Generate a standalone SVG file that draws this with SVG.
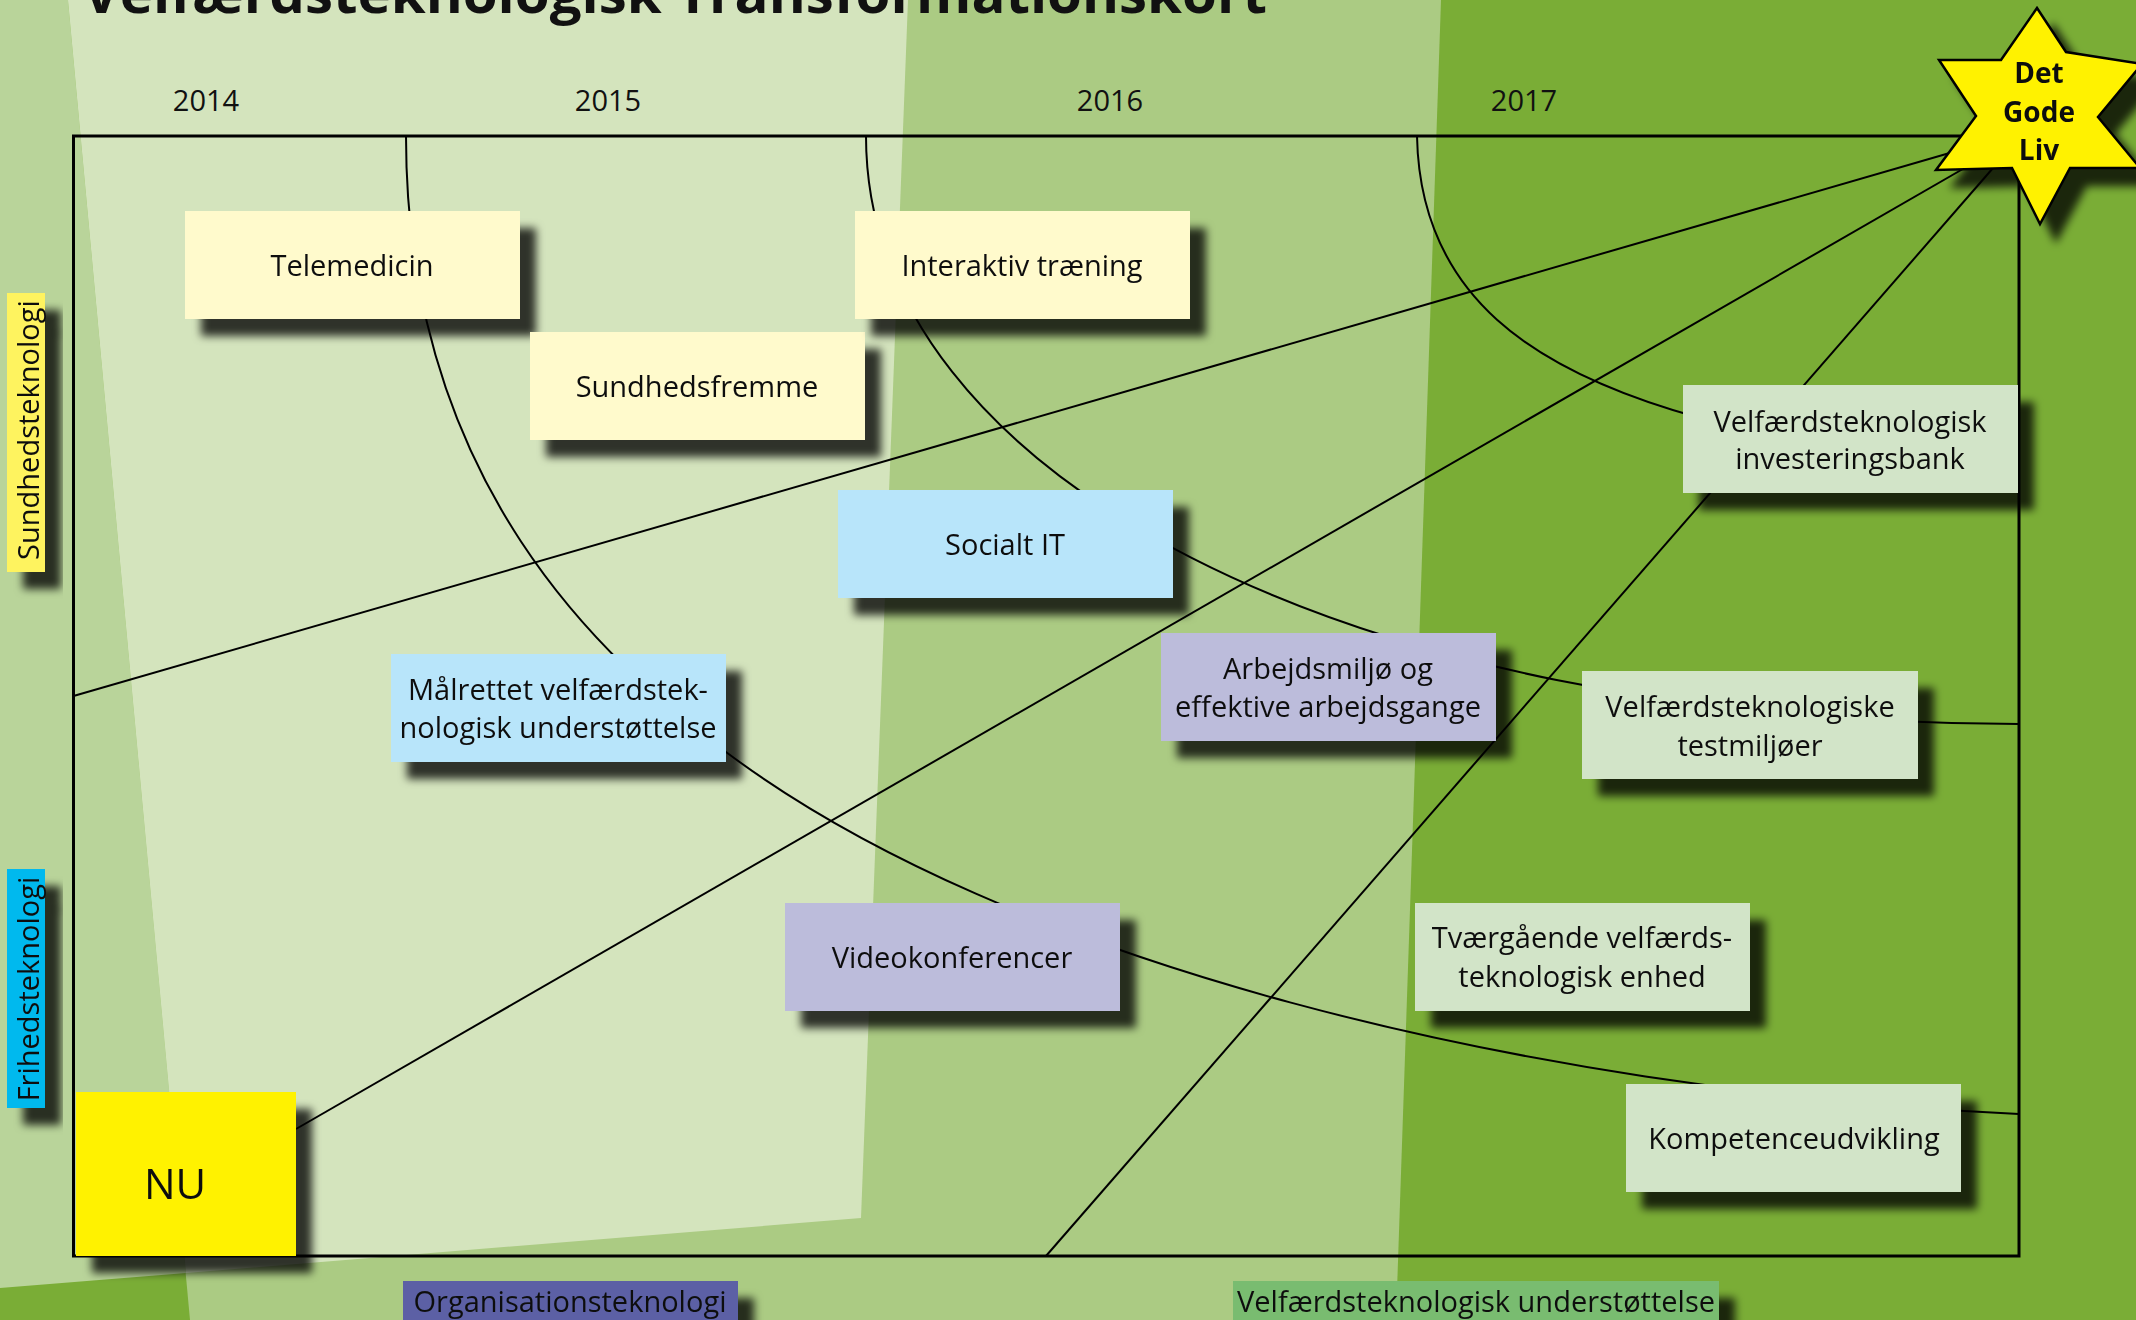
<svg xmlns="http://www.w3.org/2000/svg" width="2136" height="1320" viewBox="0 0 2136 1320">
<defs>
<filter id="sh" x="-20%" y="-20%" width="160%" height="170%">
<feDropShadow dx="16" dy="17" stdDeviation="4" flood-color="#000" flood-opacity="0.78"/>
</filter>
<style>
text{font-family:"Open Sans","Noto Sans",sans-serif;fill:#111;}
.lbl{font-size:29px;text-anchor:middle;}
.yr{font-size:29px;text-anchor:middle;}
.cn{fill:none;stroke:#000;stroke-width:2;}
.y{fill:#fffacc;}
.b{fill:#b8e5fa;}
.p{fill:#bcbcdb;}
.g{fill:#d2e4c8;}
</style>
</defs>
<g id="background">
<rect x="0" y="0" width="2136" height="1320" fill="#7aad36"/>
<polygon points="68,0 1441,0 1396,1320 190,1320" fill="#abcb83"/>
<polygon points="0,0 68,0 186,1273 0,1288" fill="#b9d49a"/>
<polygon points="68,0 908,0 861,1218 186,1273" fill="#d4e4bd"/>
</g>
<text id="title" x="83" y="13" font-size="54" font-weight="bold" textLength="1184" lengthAdjust="spacingAndGlyphs">Velfærdsteknologisk Transformationskort</text>
<g id="years">
<text class="yr" x="206" y="111">2014</text>
<text class="yr" x="608" y="111">2015</text>
<text class="yr" x="1110" y="111">2016</text>
<text class="yr" x="1524" y="111">2017</text>
</g>
<rect id="frame" x="73.5" y="136" width="1945.5" height="1120" fill="none" stroke="#000" stroke-width="3"/>
<g id="connectors">
<path class="cn" d="M406,136 C406,486 606,662 726,752 C1006,962 1519,1089 2019,1114"/>
<path class="cn" d="M866,136 C866,477 1350,724 2019,724"/>
<path class="cn" d="M1417,136 C1420,296 1533,372 1700,418"/>
<path class="cn" d="M73.5,696 L1960,150"/>
<path class="cn" d="M296,1129 L1975,162"/>
<path class="cn" d="M1046,1256 L2000,160"/>
</g>
<g id="side-sundhed" filter="url(#sh)">
<rect x="7" y="293" width="38" height="279" fill="#fef35e"/>
<text class="lbl" transform="translate(39,430) rotate(-90)" x="0" y="0">Sundhedsteknologi</text>
</g>
<g id="side-frihed" filter="url(#sh)">
<rect x="7" y="869" width="38" height="239" fill="#00b9ee"/>
<text class="lbl" transform="translate(39,989) rotate(-90)" x="0" y="0">Frihedsteknologi</text>
</g>
<g id="bottom-org" filter="url(#sh)">
<rect x="403" y="1281" width="335" height="50" fill="#5b61a5"/>
<text class="lbl" x="570" y="1312">Organisationsteknologi</text>
</g>
<g id="bottom-vel" filter="url(#sh)">
<rect x="1233" y="1281" width="486" height="50" fill="#79bc70"/>
<text class="lbl" x="1476" y="1312">Velfærdsteknologisk understøttelse</text>
</g>
<g id="node-telemedicin" filter="url(#sh)">
<rect class="y" x="185" y="211" width="335" height="108"/>
<text class="lbl" x="352" y="276">Telemedicin</text>
</g>
<g id="node-sundhedsfremme" filter="url(#sh)">
<rect class="y" x="530" y="332" width="335" height="108"/>
<text class="lbl" x="697" y="397">Sundhedsfremme</text>
</g>
<g id="node-interaktiv" filter="url(#sh)">
<rect class="y" x="855" y="211" width="335" height="108"/>
<text class="lbl" x="1022" y="276">Interaktiv træning</text>
</g>
<g id="node-socialt" filter="url(#sh)">
<rect class="b" x="838" y="490" width="335" height="108"/>
<text class="lbl" x="1005" y="555">Socialt IT</text>
</g>
<g id="node-malrettet" filter="url(#sh)">
<rect class="b" x="391" y="654" width="335" height="108"/>
<text class="lbl" x="558" y="700">Målrettet velfærdstek-</text>
<text class="lbl" x="558" y="738">nologisk understøttelse</text>
</g>
<g id="node-video" filter="url(#sh)">
<rect class="p" x="785" y="903" width="335" height="108"/>
<text class="lbl" x="952" y="968">Videokonferencer</text>
</g>
<g id="node-arbejd" filter="url(#sh)">
<rect class="p" x="1161" y="633" width="335" height="108"/>
<text class="lbl" x="1328" y="679">Arbejdsmiljø og</text>
<text class="lbl" x="1328" y="717">effektive arbejdsgange</text>
</g>
<g id="node-testmiljo" filter="url(#sh)">
<rect class="g" x="1582" y="671" width="336" height="108"/>
<text class="lbl" x="1750" y="717">Velfærdsteknologiske</text>
<text class="lbl" x="1750" y="756">testmiljøer</text>
</g>
<g id="node-tvaer" filter="url(#sh)">
<rect class="g" x="1415" y="903" width="335" height="108"/>
<text class="lbl" x="1582" y="948">Tværgående velfærds-</text>
<text class="lbl" x="1582" y="987">teknologisk enhed</text>
</g>
<g id="node-kompetence" filter="url(#sh)">
<rect class="g" x="1626" y="1084" width="335" height="108"/>
<text class="lbl" x="1794" y="1149">Kompetenceudvikling</text>
</g>
<g id="node-invest" filter="url(#sh)">
<rect class="g" x="1683" y="385" width="335" height="108"/>
<text class="lbl" x="1850" y="432">Velfærdsteknologisk</text>
<text class="lbl" x="1850" y="469">investeringsbank</text>
</g>
<g id="node-nu" filter="url(#sh)">
<rect x="76" y="1092" width="220" height="164" fill="#fff200"/>
<text x="175" y="1199" font-size="42" text-anchor="middle">NU</text>
</g>
<g id="node-star" filter="url(#sh)">
<polygon points="2037,8 2066,52 2142,64 2098,117 2140,168 2070,168 2040,224 2012,168 1936,170 1976,116 1939,60 2001,60" fill="#fff200" stroke="#000" stroke-width="2.5" stroke-linejoin="miter"/>
<text x="2039" y="83" font-size="28" font-weight="bold" text-anchor="middle">Det</text>
<text x="2039" y="122" font-size="28" font-weight="bold" text-anchor="middle">Gode</text>
<text x="2039" y="160" font-size="28" font-weight="bold" text-anchor="middle">Liv</text>
</g>
</svg>
